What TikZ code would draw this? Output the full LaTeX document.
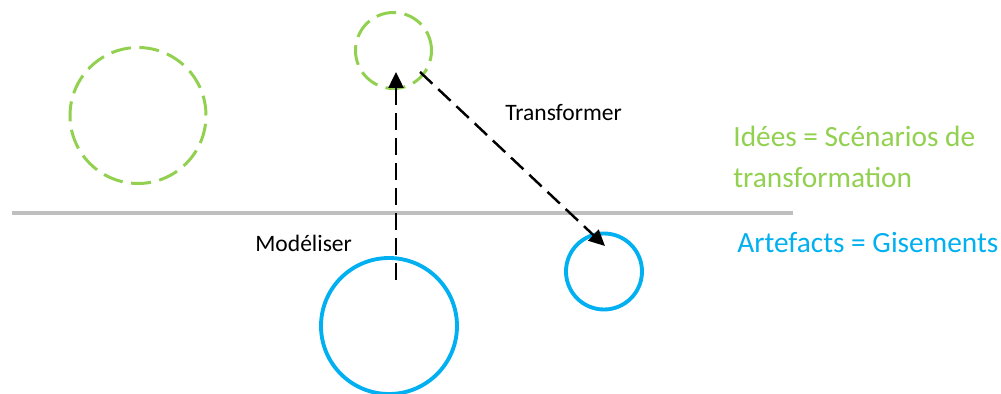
\documentclass[tikz,border=0pt]{standalone}
\usepackage{fontspec}
\setmainfont{Carlito}
\usepackage{xcolor}
\usetikzlibrary{arrows.meta}
\definecolor{IdeaGreen}{HTML}{92D050}
\definecolor{ArtefactBlue}{HTML}{00B0F0}
\definecolor{RuleGray}{HTML}{BFBFBF}

\begin{document}
\begin{tikzpicture}[
    ideacircle/.style={draw=IdeaGreen, circle, line width=1.7pt, inner sep=0pt,
                       dash pattern=on 0.40cm off 0.17cm},
    artecircle/.style={draw=ArtefactBlue, circle, line width=2.2pt, inner sep=0pt},
    flowarrow/.style={-{Triangle[length=0.32cm,width=0.30cm]}, line width=1.4pt,
                      dash pattern=on 0.34cm off 0.16cm},
    verblabel/.style={inner sep=0pt, anchor=base west, font=\fontsize{13.4}{16}\selectfont},
    legendlabel/.style={inner sep=0pt, anchor=base west, font=\fontsize{16.7}{20}\selectfont}
]
    \useasboundingbox (0,0) rectangle (20.02,7.88);

    % level separator
    \coordinate (sepleft) at (0.24,3.62);
    \coordinate (sepright) at (15.86,3.62);
    \draw[RuleGray, line width=2.2pt] (sepleft) -- (sepright);

    % ideas (top) and artefacts (bottom)
    \node[ideacircle, minimum size=2.72cm] (ideabig) at (2.76,5.57) {};
    \node[ideacircle, minimum size=1.52cm] (ideasmall) at (7.87,6.87) {};
    \node[artecircle, minimum size=2.72cm] (artebig) at (7.78,1.36) {};
    \node[artecircle, minimum size=1.52cm] (artesmall) at (12.08,2.45) {};

    % modéliser
    \coordinate (modfrom) at (7.92,2.28);
    \coordinate (modto) at (7.92,6.44);
    \draw[flowarrow] (modfrom) -- (modto);
    \node[verblabel] (modlabel) at (5.10,2.84) {Modéliser};

    % transformer
    \coordinate (trfrom) at (8.40,6.44);
    \coordinate (trto) at (12.10,2.96);
    \draw[flowarrow] (trfrom) -- (trto);
    \node[verblabel] (trlabel) at (10.10,5.46) {Transformer};

    % legend
    \node[legendlabel, text=IdeaGreen] (ideastext) at (14.66,4.94) {Idées = Scénarios de};
    \node[legendlabel, text=IdeaGreen] (ideastext2) at (14.66,4.12) {transformation};
    \node[legendlabel, text=ArtefactBlue] (artetext) at (14.74,2.82) {Artefacts = Gisements};
\end{tikzpicture}
\end{document}
